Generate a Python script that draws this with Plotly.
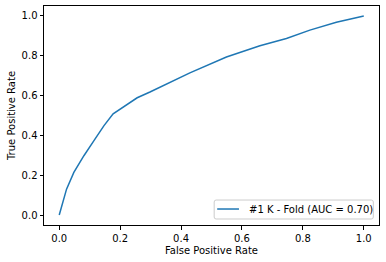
import plotly.graph_objects as go

fpr = [0.0, 0.024, 0.048, 0.081, 0.114, 0.147, 0.177, 0.2015, 0.256, 0.298, 0.429, 0.549, 0.659, 0.746, 0.823, 0.910, 1.0]
tpr = [0.0, 0.13, 0.214, 0.298, 0.374, 0.449, 0.508, 0.534, 0.589, 0.618, 0.714, 0.794, 0.85, 0.887, 0.929, 0.968, 1.0]
series_name = "#1 K - Fold (AUC = 0.70)"
tick_vals = [0.0, 0.2, 0.4, 0.6, 0.8, 1.0]
line_color = "#1f77b4"

fig = go.Figure()
fig.add_trace(go.Scatter(x=fpr, y=tpr, mode="lines", name=series_name,
                         line=dict(color=line_color, width=1.5), showlegend=False))

axis_common = dict(range=[-0.05, 1.05], tickvals=tick_vals, tickformat=".1f",
                   showgrid=False, zeroline=False, showline=True, mirror=True,
                   linecolor="black", linewidth=1, ticks="outside", ticklen=3.5,
                   tickwidth=0.8, tickcolor="black",
                   tickfont=dict(family="DejaVu Sans", size=10, color="black"))

# legend box drawn in paper coordinates (matplotlib-style, lower right)
bx0, bx1, by0, by1 = 0.508, 0.983, 0.0274, 0.114
rx, ry = 0.006, 0.009
box_path = (f"M {bx0+rx},{by0} L {bx1-rx},{by0} Q {bx1},{by0} {bx1},{by0+ry} "
            f"L {bx1},{by1-ry} Q {bx1},{by1} {bx1-rx},{by1} "
            f"L {bx0+rx},{by1} Q {bx0},{by1} {bx0},{by1-ry} "
            f"L {bx0},{by0+ry} Q {bx0},{by0} {bx0+rx},{by0} Z")
ly = 0.073

fig.update_layout(
    width=386, height=262,
    margin=dict(l=44, r=7, t=6, b=37),
    paper_bgcolor="white", plot_bgcolor="white",
    font=dict(family="DejaVu Sans", size=10, color="black"),
    xaxis=dict(title=dict(text="False Positive Rate", standoff=4,
                          font=dict(family="DejaVu Sans", size=10)), **axis_common),
    yaxis=dict(title=dict(text="True Positive Rate", standoff=4,
                          font=dict(family="DejaVu Sans", size=10)), **axis_common),
    showlegend=False,
    shapes=[
        dict(type="path", xref="paper", yref="paper", path=box_path,
             fillcolor="rgba(255,255,255,0.8)", line=dict(color="#cccccc", width=1)),
        dict(type="line", xref="paper", yref="paper", x0=0.517, x1=0.582, y0=ly, y1=ly,
             line=dict(color=line_color, width=1.5)),
    ],
    annotations=[
        dict(xref="paper", yref="paper", x=0.605, y=ly, xanchor="left", yanchor="middle",
             text=series_name, showarrow=False,
             font=dict(family="DejaVu Sans", size=10, color="black")),
    ],
)

fig.write_html("out.html")
